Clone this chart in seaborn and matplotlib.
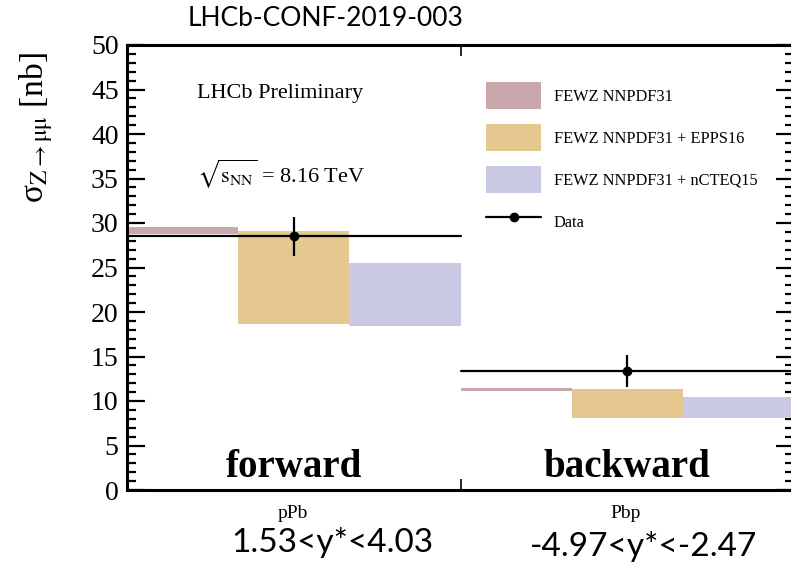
import matplotlib
matplotlib.use("Agg")
import matplotlib.pyplot as plt
import seaborn as sns
import numpy as np
import pandas as pd
from matplotlib.patches import Patch
from matplotlib.lines import Line2D
from matplotlib.ticker import MultipleLocator

# ---- data ----
regions = ["forward", "backward"]
beams = ["pPb", "Pbp"]
rapidity = ["1.53<y*<4.03", "-4.97<y*<-2.47"]
models = ["FEWZ NNPDF31", "FEWZ NNPDF31 + EPPS16", "FEWZ NNPDF31 + nCTEQ15"]
model_low = {
    "FEWZ NNPDF31": [28.8, 11.1],
    "FEWZ NNPDF31 + EPPS16": [18.6, 8.1],
    "FEWZ NNPDF31 + nCTEQ15": [18.4, 8.1],
}
model_high = {
    "FEWZ NNPDF31": [29.6, 11.5],
    "FEWZ NNPDF31 + EPPS16": [29.1, 11.4],
    "FEWZ NNPDF31 + nCTEQ15": [25.5, 10.5],
}
data_val = [28.5, 13.4]
data_err = [2.2, 1.8]
colors = ["#C8A8AA", "#E4C88F", "#C9C9E3"]

sns.set_style("ticks")
plt.rcParams["font.family"] = ["Liberation Serif", "DejaVu Serif"]
plt.rcParams["mathtext.fontset"] = "stix"
for key in ["text.color", "axes.labelcolor", "xtick.color", "ytick.color",
            "axes.edgecolor"]:
    plt.rcParams[key] = "black"

W, H = 791, 564
fig = plt.figure(figsize=(W / 100, H / 100), dpi=100)
ax = fig.add_axes([127 / W, 74 / H, (794 - 127) / W, 445 / H])

# model bands
for i, m in enumerate(models):
    lows = np.array(model_low[m])
    highs = np.array(model_high[m])
    lefts = np.arange(len(regions)) + i / 3
    ax.bar(lefts, highs - lows, bottom=lows, width=1 / 3, align="edge",
           color=colors[i], edgecolor="none", zorder=1)

# data lines
for k in range(len(regions)):
    df = pd.DataFrame({"x": [k, k + 1], "y": [data_val[k]] * 2})
    sns.lineplot(data=df, x="x", y="y", color="black", lw=1.6, ax=ax,
                 zorder=3, legend=False)
centers = np.arange(len(regions)) + 0.5
ax.errorbar(centers, data_val, yerr=data_err, fmt="o", color="black",
            ms=6, elinewidth=1.6, capsize=0, zorder=4)

ax.set_xlim(0, 2)
ax.set_ylim(0, 50)
ax.set_xlabel("")
ax.set_ylabel("")
ax.yaxis.set_major_locator(MultipleLocator(5))
ax.yaxis.set_minor_locator(MultipleLocator(1))
ax.set_xticks([1])
ax.set_xticklabels([])
ax.tick_params(axis="y", which="major", direction="in", length=13, width=1.6,
               left=True, right=True, labelsize=20, pad=6)
ax.tick_params(axis="y", which="minor", direction="in", length=6.5, width=1.6,
               left=True, right=True)
ax.tick_params(axis="x", which="major", direction="in", length=8, width=1.2,
               top=True, bottom=True)
for s in ax.spines.values():
    s.set_linewidth(2.2)
    s.set_visible(True)

# region labels inside plot
for k, r in enumerate(regions):
    ax.text(k + 0.5, 0.5, r, ha="center", va="bottom", fontsize=28,
            fontweight="bold")

# text annotations
ax.text(0.21, 44.6, "LHCb Preliminary", fontsize=16, va="center", ha="left")
ax.text(0.21, 35.5, r"$\sqrt{\mathrm{s}_{\mathrm{NN}}}$ = 8.16 TeV",
        fontsize=16, va="center", ha="left")

# legend
handles = [Patch(facecolor=c, edgecolor="none") for c in colors]
handles.append(Line2D([0], [0], color="black", lw=1.6, marker="o", ms=6))
leg = ax.legend(handles, models + ["Data"], loc="upper left",
                bbox_to_anchor=(471 / W, 1 - 67 / H),
                bbox_transform=fig.transFigure, frameon=False, fontsize=11.8,
                handlelength=3.4, handleheight=2.2, labelspacing=0.89,
                handletextpad=0.75)

# labels outside axes
fig.text(36 / W, 1 - 128 / H, r"σ$_{\mathrm{Z\rightarrow μμ}}$ [nb]",
         rotation=90, ha="center", va="center", fontsize=24)
fig.text(326 / W, 1 - 18 / H, "LHCb-CONF-2019-003", ha="center", va="center",
         fontsize=19, family=["Lato", "DejaVu Sans"])
for k in range(len(regions)):
    xc = (127 + 665 * (k + 0.5) / 2) / W
    fig.text(xc, 1 - 513 / H, beams[k], ha="center", va="center", fontsize=14)
fig.text(332 / W, 1 - 543 / H, rapidity[0], ha="center", va="center",
         fontsize=24, family=["Lato", "DejaVu Sans"])
fig.text(644 / W, 1 - 547 / H, rapidity[1], ha="center", va="center",
         fontsize=24, family=["Lato", "DejaVu Sans"])

fig.savefig("out.png", dpi=100)
